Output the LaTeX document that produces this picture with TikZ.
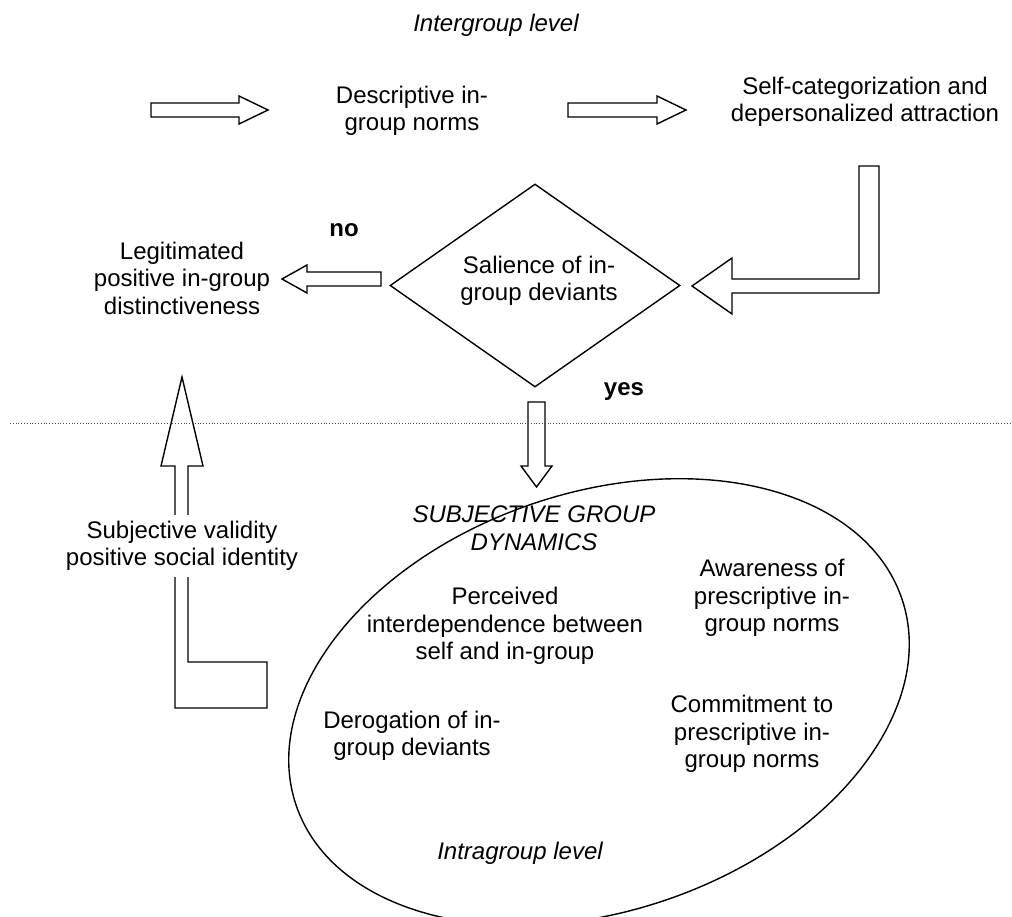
\documentclass[tikz,border=0pt]{standalone}
\usepackage{fontspec}
\setmainfont{Liberation Sans}
\usetikzlibrary{shapes.geometric}
\begin{document}
\begin{tikzpicture}[x=1pt, y=-1pt,
    txt/.style={align=center, inner sep=0pt, font=\fontsize{24}{27.5}\selectfont},
    itxt/.style={txt, font=\fontsize{24}{27.5}\selectfont\itshape},
    btxt/.style={txt, font=\fontsize{24}{27.5}\selectfont\bfseries},
    blockarrow/.style={draw=black, line width=1.4pt, line join=miter},
  ]
  % Page size of the reference
  \useasboundingbox (0,0) rectangle (1012,917);

  % Level labels
  \node[itxt] (inter) at (496,25) {Intergroup level};
  \node[itxt] (intra) at (520,853) {Intragroup level};

  % Top row
  \node[txt] (desc) at (412,111) {Descriptive in-\\group norms};
  \node[txt] (selfcat) at (865,102) {Self-categorization and\\depersonalized attraction};

  % Straight arrows of the top row
  \foreach \xs/\xb/\xt in {151/239/268, 568/657/686} {
      \draw[blockarrow] (\xs,103) -- (\xb,103) -- (\xb,96) -- (\xt,110)
          -- (\xb,124) -- (\xb,117) -- (\xs,117) -- cycle;
  }

  % Bent arrow into the decision
  \draw[blockarrow] (859,166) -- (879,166) -- (879,293) -- (732,293) -- (732,314)
      -- (692,286) -- (732,258) -- (732,279) -- (859,279) -- cycle;

  % Decision
  \node[shape=diamond, draw, line width=1.4pt, minimum width=290pt,
        minimum height=203pt, aspect=1.43, inner sep=0pt] (salience) at (535,285.5) {};
  \node[txt] (saltext) at (539,281) {Salience of in-\\group deviants};
  \node[btxt] (no) at (344,230) {no};
  \node[btxt] (yes) at (624,392) {yes};

  % Left outcome
  \node[txt] (legit) at (182,278) {Legitimated\\positive in-group\\distinctiveness};
  \draw[blockarrow] (381,272) -- (381,286) -- (307,286) -- (307,293) -- (282,279)
      -- (307,265) -- (307,272) -- cycle;

  % Down arrow (yes)
  \draw[blockarrow] (528,402) -- (545,402) -- (545,466) -- (552,466) -- (536.5,487)
      -- (521,466) -- (528,466) -- cycle;

  % Feedback arrow, text box sits on top of it
  \draw[blockarrow] (182,377) -- (203,466) -- (188,466) -- (188,662) -- (267,662)
      -- (267,708) -- (175,708) -- (175,466) -- (161,466) -- cycle;
  \node[txt, fill=white, inner sep=6pt] (valid) at (182,546)
      {Subjective validity\\positive social identity};

  % Border between the two levels
  \draw[dotted, gray!60!black, line width=0.8pt] (10,423) -- (1012,423);

  % Intragroup ellipse
  \draw[line width=1.4pt, rotate around={18.9:(599,702)}]
      (599,702) ellipse [x radius=320, y radius=209];
  \node[itxt] (sgd) at (534,528) {SUBJECTIVE GROUP\\DYNAMICS};
  \node[txt] (perc) at (505,626) {Perceived\\interdependence between\\self and in-group};
  \node[txt] (aware) at (772,598) {Awareness of\\prescriptive in-\\group norms};
  \node[txt] (derog) at (412,736) {Derogation of in-\\group deviants};
  \node[txt] (commit) at (752,734) {Commitment to\\prescriptive in-\\group norms};
\end{tikzpicture}
\end{document}
